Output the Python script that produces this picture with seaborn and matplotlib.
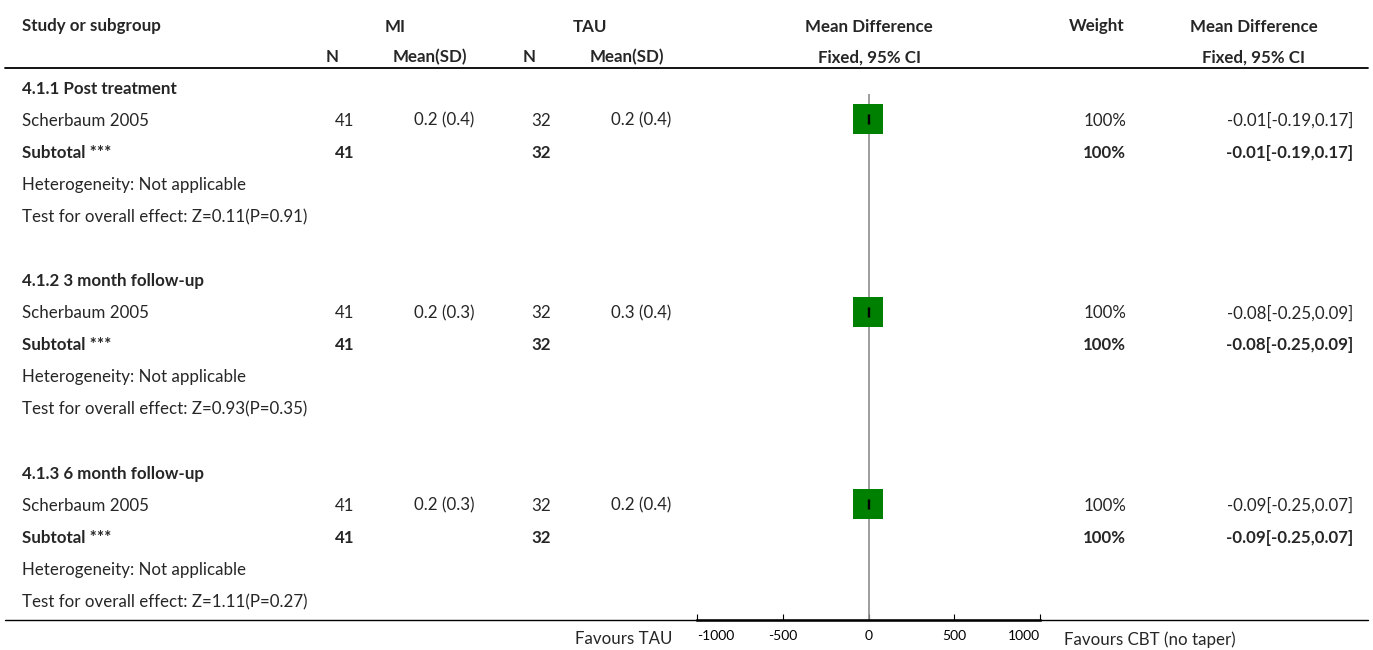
import matplotlib
matplotlib.use("Agg")
import matplotlib.pyplot as plt
import seaborn as sns
import pandas as pd

# ---------------- data ----------------
groups = ["4.1.1 Post treatment", "4.1.2 3 month follow-up", "4.1.3 6 month follow-up"]
studies = ["Scherbaum 2005", "Scherbaum 2005", "Scherbaum 2005"]
mi_n = [41, 41, 41]
mi_mean = [0.2, 0.2, 0.2]
mi_sd = [0.4, 0.3, 0.3]
tau_n = [32, 32, 32]
tau_mean = [0.2, 0.3, 0.2]
tau_sd = [0.4, 0.4, 0.4]
md = [-0.01, -0.08, -0.09]
ci_lo = [-0.19, -0.25, -0.25]
ci_hi = [0.17, 0.09, 0.07]
weights = [100, 100, 100]
z_vals = [0.11, 0.93, 1.11]
p_vals = [0.91, 0.35, 0.27]
heterogeneity = "Not applicable"
x_ticks = [-1000, -500, 0, 500, 1000]
left_label = "Favours TAU"
right_label = "Favours CBT (no taper)"

# ---------------- style ----------------
sns.set_theme(style="white")
plt.rcParams["font.family"] = ["Lato", "DejaVu Sans"]
FS = 12.2

W, H = 1373, 650
fig = plt.figure(figsize=(W / 100, H / 100), dpi=100)

ROW0_PX = 87.0
ROW_PX = 32.1

def px2row(py):
    return (py - ROW0_PX) / ROW_PX

tab = fig.add_axes([0, 0, 1, 1])
tab.set_xlim(0, W)
tab.set_ylim(px2row(H), px2row(0))
tab.axis("off")

FX0, FX1 = 697, 1040
FY_TOP, FY_BOT = 94, 620
fax = fig.add_axes([FX0 / W, (H - FY_BOT) / H, (FX1 - FX0) / W, (FY_BOT - FY_TOP) / H])
fax.patch.set_alpha(0)

bold = dict(fontweight="bold", fontsize=FS, va="center_baseline")
reg = dict(fontsize=FS, va="center_baseline")

# header
hy1, hy2 = px2row(25), px2row(56)
tab.text(22, hy1, "Study or subgroup", ha="left", **bold)
tab.text(395, hy1, "MI", ha="center", **bold)
tab.text(590, hy1, "TAU", ha="center", **bold)
tab.text(869, hy1, "Mean Difference", ha="center", **bold)
tab.text(1097, hy1, "Weight", ha="center", **bold)
tab.text(1254, hy1, "Mean Difference", ha="center", **bold)
tab.text(332, hy2, "N", ha="center", **bold)
tab.text(430, hy2, "Mean(SD)", ha="center", **bold)
tab.text(529, hy2, "N", ha="center", **bold)
tab.text(627, hy2, "Mean(SD)", ha="center", **bold)
tab.text(869, hy2, "Fixed, 95% CI", ha="center", **bold)
tab.text(1254, hy2, "Fixed, 95% CI", ha="center", **bold)
tab.plot([5, 1368], [px2row(68)] * 2, color="black", lw=1.3)
tab.plot([5, 1368], [px2row(620)] * 2, color="black", lw=1.0)

rows = []
for g in range(len(groups)):
    base = g * 6
    r_study = base + 1
    r_sub = base + 2
    tab.text(22, base, groups[g], ha="left", **bold)
    tab.text(22, r_study, studies[g], ha="left", **reg)
    tab.text(354, r_study, str(mi_n[g]), ha="right", **reg)
    tab.text(474, r_study, f"{mi_mean[g]} ({mi_sd[g]})", ha="right", **reg)
    tab.text(551, r_study, str(tau_n[g]), ha="right", **reg)
    tab.text(671, r_study, f"{tau_mean[g]} ({tau_sd[g]})", ha="right", **reg)
    tab.text(1126, r_study, f"{weights[g]}%", ha="right", **reg)
    ci_txt = f"{md[g]:.2f}[{ci_lo[g]:.2f},{ci_hi[g]:.2f}]"
    tab.text(1353, r_study, ci_txt, ha="right", **reg)
    tab.text(22, r_sub, "Subtotal ***", ha="left", **bold)
    tab.text(354, r_sub, str(mi_n[g]), ha="right", **bold)
    tab.text(551, r_sub, str(tau_n[g]), ha="right", **bold)
    tab.text(1126, r_sub, f"{weights[g]}%", ha="right", **bold)
    tab.text(1353, r_sub, ci_txt, ha="right", **bold)
    tab.text(22, base + 3, f"Heterogeneity: {heterogeneity}", ha="left", **reg)
    tab.text(22, base + 4, f"Test for overall effect: Z={z_vals[g]}(P={p_vals[g]})", ha="left", **reg)
    rows.append(r_study)

df = pd.DataFrame({"md": md, "row": rows, "lo": ci_lo, "hi": ci_hi})
fax.axvline(0, color="#8c8c8c", lw=1.2, zorder=1)
sns.scatterplot(data=df, x="md", y="row", marker="s", s=22 ** 2, color="#008000",
                edgecolor="#008000", linewidth=0, ax=fax, zorder=3, legend=False)
fax.errorbar(df["md"], df["row"], xerr=[df["md"] - df["lo"], df["hi"] - df["md"]],
             fmt="none", ecolor="black", elinewidth=0.8, capsize=3.5, capthick=1.0, zorder=4)

fax.set_xlim(x_ticks[0], x_ticks[-1])
fax.set_ylim(px2row(FY_BOT), px2row(FY_TOP))
for s in ["top", "right", "left"]:
    fax.spines[s].set_visible(False)
fax.spines["bottom"].set_linewidth(1.8)
fax.spines["bottom"].set_color("black")
fax.set_yticks([])
fax.set_xticks(x_ticks)
fax.set_xticklabels([str(t) for t in x_ticks], fontsize=10)
fax.tick_params(axis="x", bottom=True, direction="in", length=4, width=0.8,
                colors="black", pad=7.5)
tl = fax.get_xticklabels()
tl[0].set_ha("left")
tl[-1].set_ha("right")
fax.set_xlabel("")
fax.set_ylabel("")

by = px2row(638)
tab.text(672, by, left_label, ha="right", **reg)
tab.text(1064, by, right_label, ha="left", **reg)

fig.savefig("out.png", dpi=100)
